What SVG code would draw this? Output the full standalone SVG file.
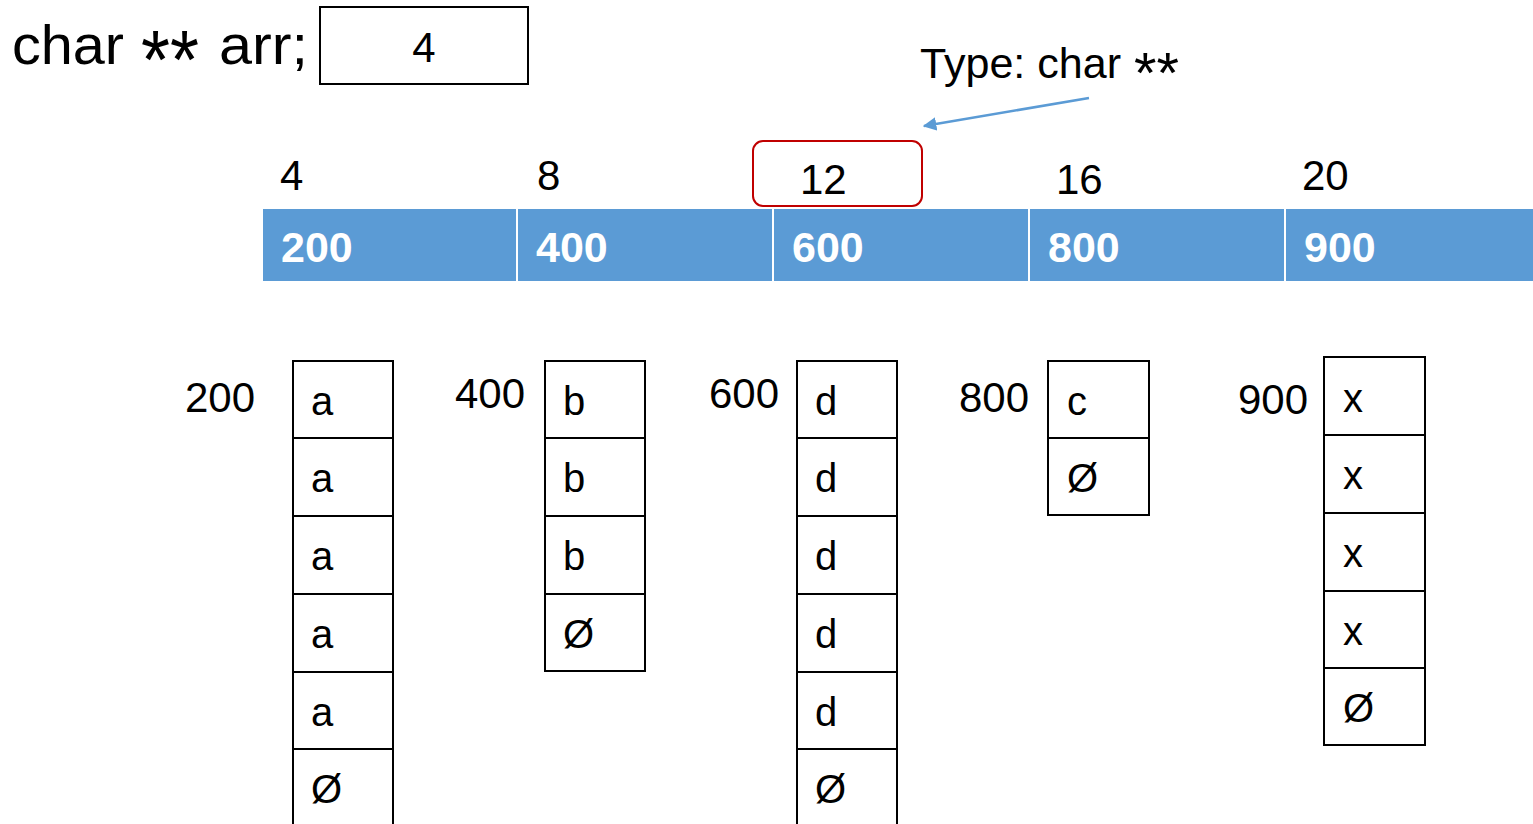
<svg xmlns="http://www.w3.org/2000/svg" width="1533" height="824" viewBox="0 0 1533 824">
  <defs>
    <marker id="arrowBlue" viewBox="0 0 10 10" refX="9" refY="5" markerWidth="5.5" markerHeight="5.5" orient="auto" markerUnits="strokeWidth">
      <path d="M0,0 L10,5 L0,10 z" fill="#5B9BD5"/>
    </marker>
  </defs>
  <style>
    text { font-family: "Liberation Sans", Arial, sans-serif; fill: #000; }
    .big { font-size: 56px; }
    .lbl { font-size: 42px; }
    .bar { fill: #5B9BD5; }
    .barTxt { font-size: 43px; font-weight: bold; fill: #fff; }
    .cell { fill: #fff; stroke: #000; stroke-width: 2; }
    .ch { font-size: 40px; }
  </style>
  <rect width="1533" height="824" fill="#fff"/>

  <!-- declaration and its value box -->
  <g id="decl">
    <text class="big" y="64"><tspan x="12" textLength="112" lengthAdjust="spacingAndGlyphs">char</tspan><tspan x="141" dy="25" font-size="84" textLength="58" lengthAdjust="spacingAndGlyphs">**</tspan><tspan x="219" dy="-25" textLength="89" lengthAdjust="spacingAndGlyphs">arr;</tspan></text>
    <rect x="320" y="7" width="208" height="77" fill="#fff" stroke="#000" stroke-width="2"/>
    <text class="lbl" x="424" y="62" text-anchor="middle">4</text>
  </g>

  <!-- type annotation -->
  <g id="typeNote">
    <text class="lbl" y="78"><tspan x="920" textLength="201" lengthAdjust="spacingAndGlyphs">Type: char</tspan><tspan x="1134" dy="15" font-size="58" textLength="45" lengthAdjust="spacingAndGlyphs">**</tspan></text>
  </g>

  <g id="connectors">
    <line x1="1089" y1="98" x2="924" y2="126" stroke="#5B9BD5" stroke-width="2.5" marker-end="url(#arrowBlue)"/>
  </g>

  <!-- pointer array: addresses and stored values -->
  <g id="ptrArray">
    <text class="lbl" x="280" y="190">4</text>
    <text class="lbl" x="537" y="190">8</text>
    <text class="lbl" x="800" y="194">12</text>
    <text class="lbl" x="1056" y="194">16</text>
    <text class="lbl" x="1302" y="190">20</text>
    <rect class="bar" x="263" y="209" width="253" height="72"/>
    <rect class="bar" x="518" y="209" width="254" height="72"/>
    <rect class="bar" x="774" y="209" width="254" height="72"/>
    <rect class="bar" x="1030" y="209" width="254" height="72"/>
    <rect class="bar" x="1286" y="209" width="247" height="72"/>
    <text class="barTxt" x="281" y="262">200</text>
    <text class="barTxt" x="536" y="262">400</text>
    <text class="barTxt" x="792" y="262">600</text>
    <text class="barTxt" x="1048" y="262">800</text>
    <text class="barTxt" x="1304" y="262">900</text>
  </g>

  <g id="highlight12">
    <rect x="753" y="141" width="169" height="65" rx="10" fill="none" stroke="#C00000" stroke-width="2"/>
  </g>

  <!-- string at 200 -->
  <g id="str200">
    <text class="lbl" x="185" y="412">200</text>
    <rect class="cell" x="293" y="361" width="100" height="77"/>
    <rect class="cell" x="293" y="438" width="100" height="78"/>
    <rect class="cell" x="293" y="516" width="100" height="78"/>
    <rect class="cell" x="293" y="594" width="100" height="78"/>
    <rect class="cell" x="293" y="672" width="100" height="77"/>
    <rect class="cell" x="293" y="749" width="100" height="80"/>
    <text class="ch" x="311" y="415">a</text>
    <text class="ch" x="311" y="492">a</text>
    <text class="ch" x="311" y="570">a</text>
    <text class="ch" x="311" y="648">a</text>
    <text class="ch" x="311" y="726">a</text>
    <text class="ch" x="311" y="803">Ø</text>
  </g>

  <!-- string at 400 -->
  <g id="str400">
    <text class="lbl" x="455" y="408">400</text>
    <rect class="cell" x="545" y="361" width="100" height="77"/>
    <rect class="cell" x="545" y="438" width="100" height="78"/>
    <rect class="cell" x="545" y="516" width="100" height="78"/>
    <rect class="cell" x="545" y="594" width="100" height="77"/>
    <text class="ch" x="563" y="415">b</text>
    <text class="ch" x="563" y="492">b</text>
    <text class="ch" x="563" y="570">b</text>
    <text class="ch" x="563" y="648">Ø</text>
  </g>

  <!-- string at 600 -->
  <g id="str600">
    <text class="lbl" x="709" y="408">600</text>
    <rect class="cell" x="797" y="361" width="100" height="77"/>
    <rect class="cell" x="797" y="438" width="100" height="78"/>
    <rect class="cell" x="797" y="516" width="100" height="78"/>
    <rect class="cell" x="797" y="594" width="100" height="78"/>
    <rect class="cell" x="797" y="672" width="100" height="77"/>
    <rect class="cell" x="797" y="749" width="100" height="80"/>
    <text class="ch" x="815" y="415">d</text>
    <text class="ch" x="815" y="492">d</text>
    <text class="ch" x="815" y="570">d</text>
    <text class="ch" x="815" y="648">d</text>
    <text class="ch" x="815" y="726">d</text>
    <text class="ch" x="815" y="803">Ø</text>
  </g>

  <!-- string at 800 -->
  <g id="str800">
    <text class="lbl" x="959" y="412">800</text>
    <rect class="cell" x="1048" y="361" width="101" height="77"/>
    <rect class="cell" x="1048" y="438" width="101" height="77"/>
    <text class="ch" x="1067" y="415">c</text>
    <text class="ch" x="1067" y="492">Ø</text>
  </g>

  <!-- string at 900 -->
  <g id="str900">
    <text class="lbl" x="1238" y="414">900</text>
    <rect class="cell" x="1324" y="357" width="101" height="78"/>
    <rect class="cell" x="1324" y="435" width="101" height="78"/>
    <rect class="cell" x="1324" y="513" width="101" height="78"/>
    <rect class="cell" x="1324" y="591" width="101" height="77"/>
    <rect class="cell" x="1324" y="668" width="101" height="77"/>
    <text class="ch" x="1343" y="412">x</text>
    <text class="ch" x="1343" y="489">x</text>
    <text class="ch" x="1343" y="567">x</text>
    <text class="ch" x="1343" y="645">x</text>
    <text class="ch" x="1343" y="722">Ø</text>
  </g>
</svg>
